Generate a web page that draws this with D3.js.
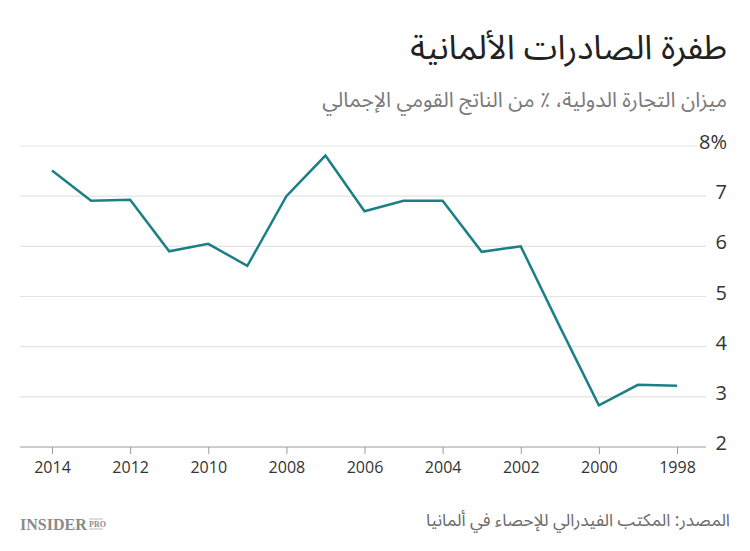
<!DOCTYPE html>
<html>
<head>
<meta charset="utf-8">
<script src="https://cdn.jsdelivr.net/npm/d3@7"></script>
<style>
  body { margin: 0; background: #fff; }
  svg { display: block; }
  .ar { font-family: "Noto Sans Arabic", "Noto Sans", "DejaVu Sans", sans-serif; }
  .num { font-family: "Open Sans", "Noto Sans", sans-serif; }
</style>
</head>
<body>
<div id="chart"></div>
<script>
// data
var years = [2014, 2013, 2012, 2011, 2010, 2009, 2008, 2007, 2006, 2005, 2004, 2003, 2002, 2001, 2000, 1999, 1998];
var balance = [7.51, 6.91, 6.93, 5.90, 6.05, 5.61, 7.0, 7.81, 6.70, 6.91, 6.91, 5.89, 6.0, 4.40, 2.83, 3.24, 3.22];
var xTicks = [2014, 2012, 2010, 2008, 2006, 2004, 2002, 2000, 1998];
var yTicks = [2, 3, 4, 5, 6, 7, 8];

var titleText = "طفرة الصادرات الألمانية";
var subtitleText = "ميزان التجارة الدولية، ٪ من الناتج القومي الإجمالي";
var sourceText = "المصدر: المكتب الفيدرالي للإحصاء في ألمانيا";

var width = 750, height = 551;
var plot = {left: 20, right: 706, top: 146, bottom: 447};

var svg = d3.select("#chart")
  .append("svg")
    .attr("width", width)
    .attr("height", height);

// x runs right to left (2014 on the left)
var x = d3.scaleLinear()
  .domain([2014, 1998])
  .range([52, 677]);

var y = d3.scaleLinear()
  .domain([2, 8])
  .range([plot.bottom, plot.top]);

// grid lines
svg.append("g")
  .selectAll("line")
  .data(yTicks.filter(function(d) { return d > 2; }))
  .enter().append("line")
    .attr("x1", plot.left)
    .attr("x2", plot.right)
    .attr("y1", function(d) { return y(d); })
    .attr("y2", function(d) { return y(d); })
    .attr("stroke", "#e3e3e3")
    .attr("stroke-width", 1.2);

// y labels on the right
svg.append("g")
  .selectAll("text")
  .data(yTicks)
  .enter().append("text")
    .attr("class", "num")
    .attr("x", 727)
    .attr("y", function(d) { return y(d) + 3; })
    .attr("text-anchor", "end")
    .attr("font-size", 20)
    .attr("fill", "#333")
    .attr("stroke", "#fff")
    .attr("stroke-width", 5)
    .attr("paint-order", "stroke")
    .text(function(d) { return d == 8 ? d + "%" : d; });

// x axis
var xAxis = d3.axisBottom(x)
  .tickValues(xTicks)
  .tickFormat(d3.format("d"))
  .tickSize(7)
  .tickSizeOuter(0);

var gx = svg.append("g")
  .attr("transform", "translate(0," + plot.bottom + ")")
  .call(xAxis);
gx.select(".domain").remove();
gx.append("line")
  .attr("x1", plot.left)
  .attr("x2", plot.right)
  .attr("stroke", "#9a9a9a")
  .attr("stroke-width", 1.2);
gx.selectAll(".tick line").attr("stroke", "#9a9a9a");
gx.selectAll(".tick text")
  .attr("class", "num")
  .attr("y", 15)
  .attr("font-size", 16)
  .attr("fill", "#333");

// the line
var line = d3.line()
  .x(function(d, i) { return x(years[i]); })
  .y(function(d) { return y(d); });

svg.append("path")
  .datum(balance)
  .attr("d", line)
  .attr("fill", "none")
  .attr("stroke", "#1b8086")
  .attr("stroke-width", 2.5)
  .attr("stroke-linejoin", "miter");

// titles
svg.append("text")
  .attr("class", "ar")
  .attr("x", 727).attr("y", 59)
  .attr("text-anchor", "start")
  .attr("direction", "rtl")
  .attr("font-size", 34)
  .attr("fill", "#222")
  .text(titleText);

svg.append("text")
  .attr("class", "ar")
  .attr("x", 727).attr("y", 107)
  .attr("text-anchor", "start")
  .attr("direction", "rtl")
  .attr("font-size", 21)
  .attr("fill", "#7a7a7a")
  .text(subtitleText);

svg.append("text")
  .attr("class", "ar")
  .attr("x", 730).attr("y", 526)
  .attr("text-anchor", "start")
  .attr("direction", "rtl")
  .attr("font-size", 17.3)
  .attr("fill", "#6a6a6a")
  .text(sourceText);

// logo
var logo = svg.append("g").attr("transform", "translate(20,530)");
logo.append("text")
  .attr("font-family", "Liberation Serif, DejaVu Serif, serif")
  .attr("font-weight", "bold")
  .attr("font-size", 16)
  .attr("fill", "#8a8a8a")
  .text("INSIDER");
logo.append("text")
  .attr("x", 69).attr("y", -3)
  .attr("font-family", "Liberation Serif, DejaVu Serif, serif")
  .attr("font-weight", "bold")
  .attr("font-size", 8)
  .attr("fill", "#8a8a8a")
  .text("PRO");
logo.append("line")
  .attr("x1", 69).attr("x2", 83).attr("y1", -11).attr("y2", -11)
  .attr("stroke", "#aaa").attr("stroke-width", 0.8);
logo.append("line")
  .attr("x1", 69).attr("x2", 83).attr("y1", -1).attr("y2", -1)
  .attr("stroke", "#aaa").attr("stroke-width", 0.8);
</script>
</body>
</html>
